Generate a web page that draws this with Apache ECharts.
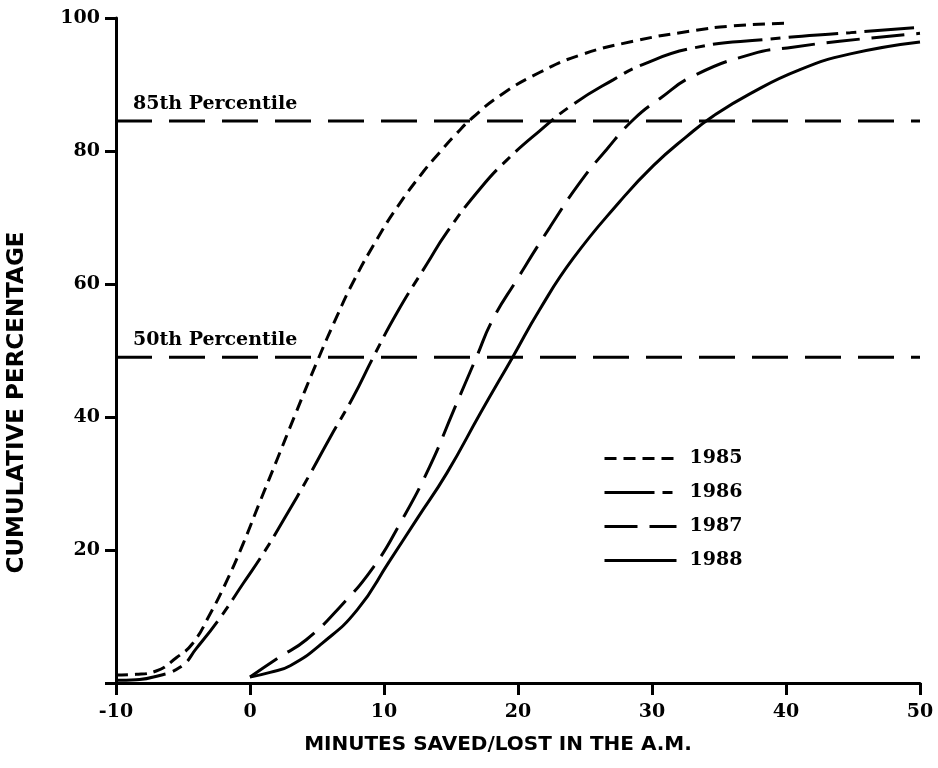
<!DOCTYPE html>
<html>
<head>
<meta charset="utf-8">
<script src="https://cdn.jsdelivr.net/npm/echarts@6/dist/echarts.min.js"></script>
<style>
  html, body { margin: 0; padding: 0; background: #fff; }
  #chart { width: 938px; height: 768px; }
</style>
</head>
<body>
<div id="chart"></div>
<script>
// axis ranges
const xRange = [-10, 50]
const yRange = [0, 100]
const years = ['1985', '1986', '1987', '1988']

// cumulative curves
const x1985 = [-10, -8.5, -7, -5.5, -4.3, -3, -1.7, -0.5, 0.75, 2, 3.3, 5, 6.5, 7.7, 9.5, 11, 12.9, 14.2, 15.4, 16.6, 18.7, 21.6, 24.6, 28.6, 32.8, 36, 40]
const y1985 = [1.2, 1.3, 1.8, 3.8, 5.9, 10.3, 15.5, 21, 27.3, 33.5, 40, 48.3, 55.2, 60.3, 66.8, 71.6, 76.8, 79.9, 82.6, 85, 88.4, 91.8, 94.4, 96.5, 98, 98.8, 99.2]

const x1986 = [-10, -8.5, -7.2, -5.2, -4, -2.2, -0.5, 1, 2.5, 4.5, 6, 7.7, 9.2, 11, 13.2, 14.7, 17.2, 19.2, 21.6, 24.1, 27.1, 29.3, 33.1, 38.6, 44.8, 50]
const y1986 = [0.4, 0.5, 0.9, 2.4, 5.2, 9.9, 15, 19.5, 24.5, 31.5, 37, 43, 49, 55.8, 63, 67.8, 74.4, 78.7, 83, 87, 90.7, 93, 95.5, 96.8, 97.8, 98.6]

const x1987 = [0, 2.2, 4.2, 6.7, 9.2, 11.2, 13.4, 15.2, 16.9, 18.1, 19.9, 22.4, 24.6, 26.6, 28.6, 30.6, 33.1, 37.5, 40.5, 44, 50]
const y1987 = [0.9, 3.9, 6.5, 11.4, 17.4, 24, 32.5, 41, 49, 54.6, 60.6, 68.6, 75.2, 80.2, 84.7, 87.9, 91.3, 94.6, 95.6, 96.5, 97.7]

const x1988 = [0, 1.5, 3, 5.4, 8, 10.4, 12.5, 14.7, 17.2, 19.6, 21.6, 24.1, 27.6, 30.1, 32.6, 34.6, 37.3, 41, 44.8, 50]
const y1988 = [0.9, 1.6, 2.6, 6, 11, 18.3, 24.8, 31.6, 40.6, 49, 56.1, 63.8, 72.4, 77.8, 82.2, 85.3, 88.6, 92.2, 94.6, 96.4]

// reference lines
const pctLabels = ['85th Percentile', '50th Percentile']
const pctValues = [84.5, 49]

const pair = (xs, ys) => xs.map((x, i) => [x, ys[i]])

const serif = 'DejaVu Serif'
const ink = '#000'

let myChart = echarts.init(document.getElementById('chart'))

const curve = (name, xs, ys, type) => ({
    name: name,
    type: 'line',
    data: pair(xs, ys),
    smooth: 0.5,
    symbol: 'none',
    lineStyle: { color: ink, width: 3, type: type, cap: 'butt' },
    itemStyle: { color: ink }
})

const pctLine = (i) => ({
    name: pctLabels[i],
    type: 'line',
    silent: true,
    symbol: 'circle',
    symbolSize: 0,
    showSymbol: true,
    lineStyle: { color: ink, width: 3, type: [36, 17], cap: 'butt' },
    itemStyle: { color: ink },
    data: [
        {
            value: [xRange[0], pctValues[i]],
            label: {
                show: true,
                formatter: pctLabels[i],
                position: 'right',
                offset: [12, -17],
                color: ink,
                fontFamily: serif,
                fontWeight: 'bold',
                fontSize: 19
            }
        },
        [xRange[1], pctValues[i]]
    ]
})

var option = {
    animation: false,
    backgroundColor: '#fff',
    grid: { left: 116, right: 18, top: 18, bottom: 85, containLabel: false, outerBoundsMode: 'none' },
    legend: {
        data: years,
        orient: 'vertical',
        left: 598,
        top: 444,
        itemWidth: 72,
        itemHeight: 12,
        itemGap: 15,
        itemStyle: { opacity: 0, borderWidth: 0 },
        lineStyle: { width: 3 },
        textStyle: { color: ink, fontFamily: serif, fontWeight: 'bold', fontSize: 19, padding: [0, 0, 0, 8] }
    },
    xAxis: {
        type: 'value',
        min: xRange[0],
        max: xRange[1],
        interval: 10,
        name: 'MINUTES SAVED/LOST IN THE A.M.',
        nameLocation: 'middle',
        nameGap: 52,
        nameTextStyle: { color: ink, fontFamily: 'DejaVu Sans', fontWeight: 'bold', fontSize: 20, padding: [0, 40, 0, 0] },
        axisLine: { show: true, onZero: false, lineStyle: { color: ink, width: 3 } },
        axisTick: { show: true, length: 12, lineStyle: { color: ink, width: 3 } },
        axisLabel: { color: ink, fontFamily: serif, fontWeight: 'bold', fontSize: 19, margin: 20 },
        splitLine: { show: false }
    },
    yAxis: {
        type: 'value',
        min: yRange[0],
        max: yRange[1],
        interval: 20,
        name: 'CUMULATIVE PERCENTAGE',
        nameLocation: 'middle',
        nameRotate: 90,
        nameGap: 87,
        nameTextStyle: { color: ink, fontFamily: 'DejaVu Sans', fontWeight: 'bold', fontSize: 23, padding: [0, 104, 0, 0] },
        axisLine: { show: true, onZero: false, lineStyle: { color: ink, width: 3 } },
        axisTick: { show: true, length: 11, lineStyle: { color: ink, width: 3 } },
        axisLabel: {
            color: ink, fontFamily: serif, fontWeight: 'bold', fontSize: 19, margin: 16,
            formatter: function (v) { return v === 0 ? '' : v }
        },
        splitLine: { show: false }
    },
    series: [
        curve(years[0], x1985, y1985, [12, 7]),
        curve(years[1], x1986, y1986, [50, 8, 10, 8]),
        curve(years[2], x1987, y1987, [33, 12]),
        curve(years[3], x1988, y1988, 'solid'),
        pctLine(0),
        pctLine(1)
    ]
};
myChart.setOption(option);
</script>
</body>
</html>
